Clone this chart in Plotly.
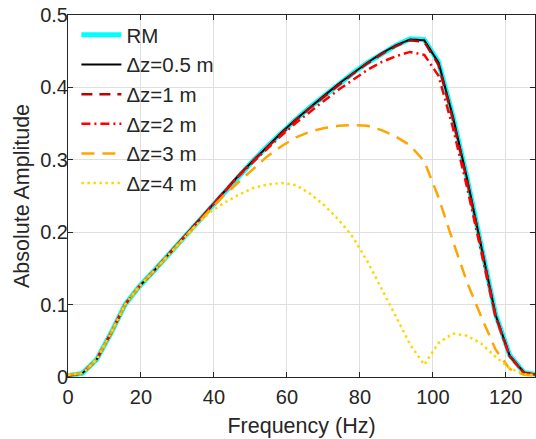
import plotly.graph_objects as go

freq = [0.0, 3.906, 7.813, 11.719, 15.625, 19.531, 23.438, 27.344, 31.25, 35.156,
        39.063, 42.969, 46.875, 50.781, 54.688, 58.594, 62.5, 66.406, 70.313, 74.219,
        78.125, 82.031, 85.938, 89.844, 93.75, 97.656, 101.563, 105.469, 109.375, 113.281,
        117.188, 121.094, 125.0, 128.906]

rm = [0.002, 0.005, 0.024, 0.060, 0.100, 0.125, 0.146, 0.168, 0.190, 0.212,
      0.235, 0.257, 0.279, 0.299, 0.319, 0.338, 0.356, 0.373, 0.389, 0.405,
      0.420, 0.434, 0.447, 0.458, 0.467, 0.466, 0.435, 0.361, 0.275, 0.182,
      0.087, 0.030, 0.006, 0.003]

dz05 = [0.002, 0.005, 0.024, 0.060, 0.100, 0.125, 0.146, 0.168, 0.190, 0.212,
        0.235, 0.257, 0.279, 0.299, 0.319, 0.338, 0.356, 0.373, 0.389, 0.405,
        0.420, 0.434, 0.447, 0.458, 0.466, 0.465, 0.434, 0.360, 0.274, 0.181,
        0.086, 0.029, 0.006, 0.003]

dz1 = [0.002, 0.005, 0.024, 0.060, 0.100, 0.125, 0.146, 0.168, 0.190, 0.212,
       0.235, 0.257, 0.279, 0.299, 0.318, 0.337, 0.355, 0.372, 0.388, 0.404,
       0.419, 0.433, 0.446, 0.457, 0.465, 0.463, 0.431, 0.357, 0.271, 0.179,
       0.085, 0.029, 0.006, 0.003]

dz2 = [0.002, 0.005, 0.024, 0.060, 0.100, 0.125, 0.146, 0.168, 0.190, 0.212,
       0.235, 0.257, 0.278, 0.297, 0.316, 0.334, 0.351, 0.367, 0.382, 0.397,
       0.411, 0.424, 0.435, 0.443, 0.449, 0.445, 0.416, 0.345, 0.262, 0.173,
       0.083, 0.028, 0.005, 0.003]

dz3 = [0.003, 0.005, 0.024, 0.060, 0.100, 0.125, 0.146, 0.168, 0.189, 0.210,
       0.232, 0.252, 0.270, 0.288, 0.305, 0.319, 0.331, 0.339, 0.344, 0.347,
       0.348, 0.347, 0.341, 0.332, 0.320, 0.298, 0.248, 0.188, 0.131, 0.083,
       0.038, 0.011, 0.003, 0.002]

dz4 = [0.003, 0.005, 0.024, 0.060, 0.100, 0.125, 0.146, 0.168, 0.189, 0.210,
       0.228, 0.241, 0.252, 0.261, 0.266, 0.268, 0.265, 0.253, 0.237, 0.217,
       0.193, 0.160, 0.123, 0.084, 0.045, 0.017, 0.047, 0.060, 0.057, 0.046,
       0.028, 0.012, 0.004, 0.002]

names = ["RM", "Δz=0.5 m", "Δz=1 m", "Δz=2 m", "Δz=3 m", "Δz=4 m"]
series = [rm, dz05, dz1, dz2, dz3, dz4]
colors = ["#00FFFF", "#000000", "#C00000", "#FF0000", "#FFA500", "#FFD700"]
widths = [5, 2, 2.5, 2.5, 2.5, 2.5]
dashes = ["solid", "solid", "11px,7px", "9px,4px,2px,4px", "13px,8px", "2.5px,3.5px"]

TXT = "#262626"
FONT = "Liberation Sans, Arial, Helvetica, sans-serif"

fig = go.Figure()
for i, (nm, ys) in enumerate(zip(names, series)):
    fig.add_trace(go.Scatter(
        x=freq, y=ys, mode="lines", name=nm,
        line=dict(color=colors[i], width=widths[i], dash=dashes[i]),
    ))

axis_common = dict(
    showline=True, linecolor=TXT, linewidth=1, mirror="ticks",
    ticks="inside", ticklen=5, tickcolor=TXT, tickwidth=1,
    showgrid=True, gridcolor="#DFDFDF", gridwidth=1, zeroline=False,
    tickfont=dict(family=FONT, size=20, color=TXT),
)

fig.update_layout(
    width=536, height=439,
    margin=dict(l=68, r=1, t=15, b=62, pad=0),
    paper_bgcolor="white", plot_bgcolor="white",
    font=dict(family=FONT, color=TXT),
    xaxis=dict(range=[0, 128], dtick=20, tick0=0, ticklabelstandoff=2,
               title=dict(text="Frequency (Hz)", font=dict(family=FONT, size=21.5, color=TXT), standoff=10),
               **axis_common),
    yaxis=dict(range=[0, 0.5], dtick=0.1, tick0=0, ticklabelstandoff=-5,
               title=dict(text="Absolute Amplitude", font=dict(family=FONT, size=21.5, color=TXT), standoff=4),
               **axis_common),
    legend=dict(x=0.018, y=1.0, xanchor="left", yanchor="top",
                bgcolor="rgba(0,0,0,0)", borderwidth=0,
                font=dict(family=FONT, size=20.5, color=TXT),
                itemwidth=40, tracegroupgap=0),
    showlegend=True,
)

fig.write_html("out.html")
